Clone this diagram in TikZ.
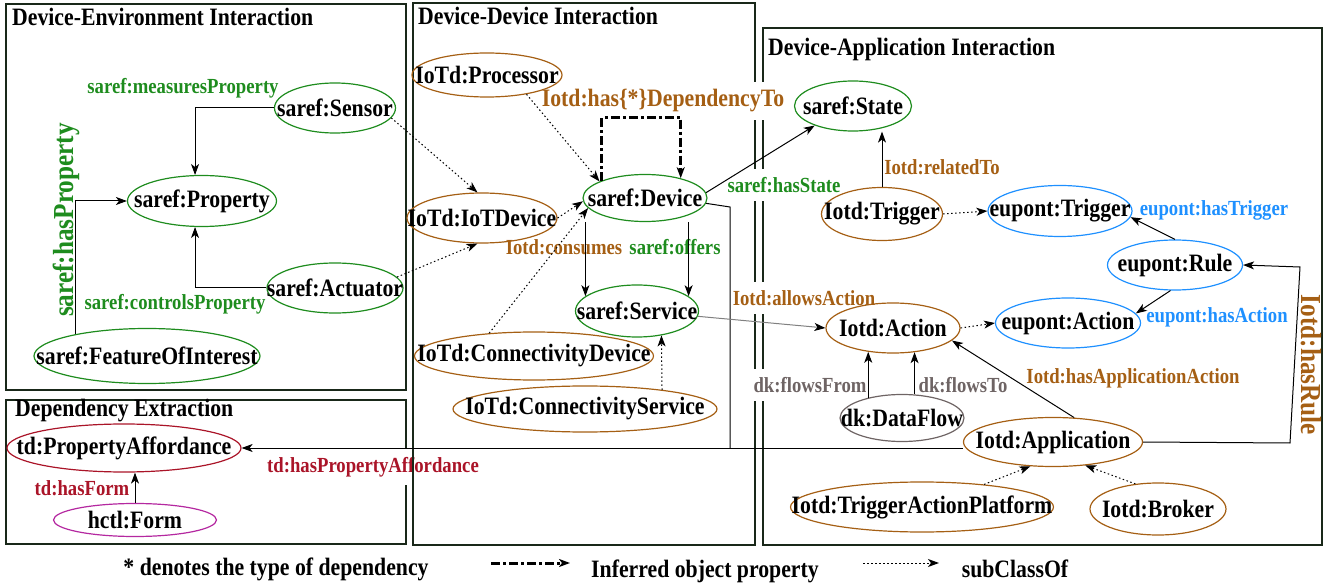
\documentclass[tikz,border=0pt]{standalone}
\usepackage{fontspec}
\setmainfont{Liberation Serif}[FakeStretch=0.87]
\usetikzlibrary{shapes.geometric, arrows.meta}

\definecolor{sarefgreen}{RGB}{30,140,30}
\definecolor{iotdbrown}{RGB}{165,95,20}
\definecolor{eupontblue}{RGB}{30,144,255}
\definecolor{tdred}{RGB}{170,20,40}
\definecolor{hctlpink}{RGB}{180,40,160}
\definecolor{dkgray}{RGB}{110,100,100}
\definecolor{boxline}{RGB}{25,40,25}

\newcommand{\clsfont}{\fontsize{25}{30}\selectfont\bfseries}
\newcommand{\relfont}{\fontsize{21.5}{26}\selectfont\bfseries}
\newcommand{\sidefont}{\fontsize{29}{34}\selectfont\bfseries}

\begin{document}
\begin{tikzpicture}[x=1pt, y=-1pt,
    cls/.style={ellipse, draw=#1, line width=1.2pt, inner sep=0pt, font=\clsfont,
      execute at begin node={\hbox to 0pt\bgroup\hss},
      execute at end node={\hss\egroup}},
    sz/.style 2 args={minimum width=#1pt, minimum height=#2pt},
    rel/.style={text=#1, font=\relfont, inner sep=0pt},
    relcut/.style={rel=#1, fill=white, inner xsep=1pt, inner ysep=8pt},
    title/.style={font=\clsfont, anchor=base west, inner sep=0pt},
    area/.style={draw=boxline, line width=2pt},
    arr/.style={line width=1pt, -{Stealth[length=11pt, width=8pt, inset=3pt]}},
    gline/.style={line width=1pt, draw=gray, -{Stealth[length=11pt, width=8pt, inset=3pt, color=black]}},
    sub/.style={arr, dash pattern=on 1.5pt off 2.5pt},
    inferred/.style={arr, line width=3pt, dash pattern=on 9pt off 3pt on 3pt off 3pt}]

  \useasboundingbox (0,0) rectangle (1326,585);

  % Areas
  \draw[area] (6,4) rectangle (406,390);
  \draw[area] (6,400) rectangle (406,544);
  \node[title] (tenv) at (12,26) {Device-Environment Interaction};
  \node[title] (text) at (15,417) {Dependency Extraction};
  \node[relcut=tdred] (lpa) at (373,467) {td:hasPropertyAffordance};
  \draw[area] (413,3) rectangle (755,545);
  \draw[area] (763,28) rectangle (1322,545);
  \node[title] (tdev) at (418,25) {Device-Device Interaction};
  \node[title] (tapp) at (768,56) {Device-Application Interaction};

  % Labels
  \node[rel=sarefgreen] (lmeas) at (183,88) {saref:measuresProperty};
  \node[rel=sarefgreen] (lctrl) at (175,304) {saref:controlsProperty};
  \node[rel=sarefgreen, rotate=90, font=\sidefont] (lhas) at (66,220) {saref:hasProperty};
  \node[relcut=iotdbrown, font=\clsfont] (ldep) at (663,101) {Iotd:has\{*\}DependencyTo};
  \node[rel=iotdbrown] (lcons) at (564,247) {Iotd:consumes};
  \node[rel=sarefgreen] (loffer) at (675,247) {saref:offers};
  \node[relcut=sarefgreen] (lstate) at (784,185) {saref:hasState};
  \node[relcut=iotdbrown] (lallow) at (804,298) {Iotd:allowsAction};
  \node[rel=iotdbrown] (lrel) at (942,167) {Iotd:relatedTo};
  \node[rel=eupontblue] (ltrig) at (1214,210) {eupont:hasTrigger};
  \node[rel=eupontblue] (lact) at (1217,317) {eupont:hasAction};
  \node[rel=iotdbrown] (lappact) at (1133,378) {Iotd:hasApplicationAction};
  \node[relcut=dkgray] (lfrom) at (810,385) {dk:flowsFrom};
  \node[rel=dkgray] (lto) at (963,385) {dk:flowsTo};
  \node[rel=iotdbrown, rotate=-90, font=\sidefont] (lrule) at (1311,365) {Iotd:hasRule};
  \node[rel=tdred] (lform) at (82,488) {td:hasForm};

  % Nodes
  \node[cls=sarefgreen, sz={121}{50}] (sensor) at (335,108) {saref:Sensor};
  \node[cls=sarefgreen, sz={149}{51}] (prop) at (202,201) {saref:Property};
  \node[cls=sarefgreen, sz={136}{50}] (actuator) at (335,288) {saref:Actuator};
  \node[cls=sarefgreen, sz={226}{55}] (foi) at (147,356) {saref:FeatureOfInterest};

  \node[cls=iotdbrown, sz={150}{44}] (proc) at (487,75) {IoTd:Processor};
  \node[cls=iotdbrown, sz={150}{50}] (iotdev) at (482,218) {IoTd:IoTDevice};
  \node[cls=sarefgreen, sz={124}{47}] (dev) at (645,198) {saref:Device};
  \node[cls=sarefgreen, sz={123}{52}] (svc) at (637,311) {saref:Service};
  \node[cls=iotdbrown, sz={239}{48}] (cdev) at (534,356) {IoTd:ConnectivityDevice};
  \node[cls=iotdbrown, sz={264}{46}] (csvc) at (585,409) {IoTd:ConnectivityService};

  \node[cls=sarefgreen, sz={117}{50}] (state) at (853,106) {saref:State};
  \node[cls=iotdbrown, sz={121}{53}] (trig) at (882,214) {Iotd:Trigger};
  \node[cls=eupontblue, sz={144}{51}] (etrig) at (1060,211) {eupont:Trigger};
  \node[cls=eupontblue, sz={135}{50}] (rule) at (1175,265) {eupont:Rule};
  \node[cls=eupontblue, sz={145}{50}] (eact) at (1068,323) {eupont:Action};
  \node[cls=iotdbrown, sz={134}{50}] (action) at (893,328) {Iotd:Action};
  \node[cls=dkgray, sz={124}{47}] (df) at (902,418) {dk:DataFlow};
  \node[cls=iotdbrown, sz={179}{49}] (app) at (1053,442) {Iotd:Application};
  \node[cls=iotdbrown, sz={263}{50}] (tap) at (922,507) {Iotd:TriggerActionPlatform};
  \node[cls=iotdbrown, sz={136}{52}] (broker) at (1158,509) {Iotd:Broker};

  \node[cls=tdred, sz={234}{48}] (pa) at (124,448) {td:PropertyAffordance};
  \node[cls=hctlpink, sz={163}{33}] (form) at (135,520) {hctl:Form};

  \coordinate (bend) at (730,207);
  \coordinate (rulebot) at (1290,443);
  \coordinate (ruletop) at (1300,267);

  % Edges
  \draw[arr] (sensor.west) -| (prop.105);
  \draw[arr] (actuator.west) -| (prop.255);
  \draw[arr] (foi.163) |- (prop.west);
  \draw[arr] (form.north) -- (form.north |- pa.south);
  \draw[arr] (app.west |- pa.east) -- (pa.east);

  \draw[sub] (sensor.-10) -- (iotdev.100);
  \draw[sub] (actuator.10) -- (iotdev.-100);
  \draw[sub] (proc.-26) -- (dev.160);
  \draw[sub] (iotdev.east) -- (dev.183);
  \draw[sub] (cdev.153) -- (dev.190);
  \draw[sub] (csvc.14) -- (svc.-45);
  \draw[inferred] (dev.158) -- ++(0,-63) -| (dev.29);
  \draw[arr] (svc.164 |- dev.south) -- (svc.164);
  \draw[arr] (svc.16 |- dev.south) -- (svc.16);
  \draw[arr] (dev.5) -- (state.207);
  \draw[line width=1pt] (dev.-5) -- (bend) -- (bend |- pa.east);
  \draw[gline] (svc.-5) -- (action.west);

  \draw[arr] (trig.north) -- (trig.north |- state.south);
  \draw[sub] (trig.east) -- (etrig.west);
  \draw[arr] (rule.north) -- (etrig.-5);
  \draw[arr] (rule.-100) -- (eact.8);
  \draw[sub] (action.east) -- (eact.west);
  \draw[arr] (app.49) -- (action.-12);
  \draw[arr] (df.149) -- (df.149 |- action.-136);
  \draw[arr] (df.62) -- (df.62 |- action.-48);
  \draw[sub] (tap.20) -- (app.-133);
  \draw[sub] (broker.132) -- (app.-36);
  \draw[arr] (app.east) -- (rulebot) -- (ruletop) -- (rule.east);

  % Legend
  \node[title, anchor=base] (lstar) at (276,575) {* denotes the type of dependency};
  \node[title, anchor=base] (linf) at (705,577) {Inferred object property};
  \node[title, anchor=base] (lsub) at (1015,577) {subClassOf};
  \coordinate (infa) at (491,563);
  \coordinate (infb) at (570,563);
  \coordinate (suba) at (863,563);
  \coordinate (subb) at (939,563);
  \draw[inferred] (infa) -- (infb);
  \draw[sub] (suba) -- (subb);
\end{tikzpicture}
\end{document}
